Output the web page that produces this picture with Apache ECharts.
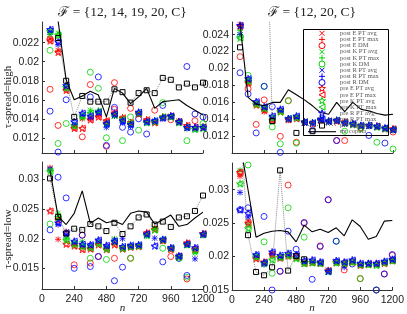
<!DOCTYPE html>
<html><head><meta charset="utf-8">
<script src="https://cdn.jsdelivr.net/npm/echarts@6/dist/echarts.min.js"></script>
<style>html,body{margin:0;padding:0;background:#fff}#c{width:407px;height:314px}</style>
</head><body><div id="c"></div>
<script>
// ---------- data ----------
const nValues = [60,120,180,240,300,360,420,480,540,600,660,720,780,840,900,960,1020,1080,1140,1200];
const panelTitles = ['\u2131 = {12, 14, 19, 20, C}', '\u2131 = {12, 20, C}'];
const rowLabels = ['\u03C4-spread=high', '\u03C4-spread=low'];
const xAxisLabel = 'n';
const seriesNames = ['post E PT avg','post E PT max','post E DM','post K PT avg','post K PT max','post K DM',
  'post R PT avg','post R PT max','post R DM','pre E PT avg','pre E PT max','pre K PT avg','pre K PT max',
  'pre R PT avg','pre R PT max','pre copula','mr copula'];
const yTicksTL = [0.012,0.014,0.016,0.018,0.02,0.022];
const yTicksTR = [0.012,0.014,0.016,0.018,0.02,0.022,0.024];
const yTicksBL = [0.015,0.02,0.025,0.03];
const yTicksBR = [0.015,0.02,0.025,0.03];

// top-left: F={12,14,19,20,C}, tau-spread=high
const tlEPost = [0.0224,0.0212,0.0172,0.0131,0.0140,0.0140,0.0143,0.0137,0.0145,0.0140,0.0135,0.0146,0.0138,0.0137,0.0141,0.0142,0.0138,0.0132,0.0130,0.0132];
const tlEPre  = [0.0222,0.0210,0.0170,0.0130,0.0130,0.0139,0.0142,0.0138,0.0146,0.0141,0.0136,0.0145,0.0139,0.0136,0.0142,0.0143,0.0137,0.0133,0.0131,0.0131];
const tlKPost = [0.0229,0.0230,0.0171,0.0132,0.0141,0.0149,0.0147,0.0134,0.0143,0.0141,0.0136,0.0145,0.0137,0.0138,0.0141,0.0143,0.0137,0.0130,0.0130,0.0132];
const tlKPre  = [0.0232,0.0228,0.0173,0.0133,0.0143,0.0146,0.0148,0.0135,0.0144,0.0139,0.0135,0.0146,0.0136,0.0137,0.0142,0.0142,0.0136,0.0131,0.0129,0.0130];
const tlRPost = [0.0231,0.0218,0.0173,0.0134,0.0144,0.0141,0.0146,0.0131,0.0143,0.0136,0.0132,0.0145,0.0136,0.0137,0.0140,0.0142,0.0136,0.0130,0.0129,0.0130];
const tlRPre  = [0.0234,0.0221,0.0175,0.0137,0.0146,0.0143,0.0147,0.0135,0.0145,0.0138,0.0134,0.0147,0.0137,0.0138,0.0141,0.0143,0.0137,0.0131,0.0131,0.0131];
const tlEDM = [[60,0.0224],[60,0.0171],[120,0.0133],[300,0.0121],[360,0.0176],[480,0.0111],[540,0.0178],[540,0.0150],[660,0.0151],[840,0.0149],[960,0.0139],[1140,0.0138]];
const tlKDM = [[60,0.0212],[120,0.0114],[180,0.0135],[360,0.0189],[420,0.0172],[480,0.0120],[600,0.0117],[660,0.0142],[720,0.0128],[900,0.0157],[1080,0.0117],[1200,0.0135]];
const tlRDM = [[60,0.0148],[120,0.0105],[180,0.0160],[360,0.0163],[420,0.0184],[480,0.0112],[540,0.0152],[600,0.0131],[660,0.0126],[720,0.0140],[780,0.0124],[900,0.0154],[1080,0.0195],[1140,0.0145],[1200,0.0142]];
const tlSquares = [null,0.0225,0.0180,0.0142,0.0164,0.0158,0.0158,0.0158,0.0171,0.0168,0.0157,0.0167,0.0170,0.0167,0.0183,0.0181,0.0173,0.0177,0.0173,0.0178];
const tlLine = [0.0300,0.0243,0.0181,0.0160,0.0164,0.0169,0.0165,0.0142,0.0172,0.0167,0.0156,0.0163,0.0172,0.0151,0.0158,0.0159,0.0160,0.0154,0.0149,0.0144];

// top-right: F={12,20,C}, tau-spread=high
const trEPost = [0.0252,0.0184,0.0158,0.0149,0.0140,0.0150,0.0139,0.0142,0.0136,0.0136,0.0140,0.0137,0.0139,0.0136,0.0135,0.0133,0.0132,0.0131,0.0130,0.0128];
const trEPre  = [0.0250,0.0183,0.0157,0.0151,0.0139,0.0149,0.0140,0.0141,0.0137,0.0135,0.0139,0.0138,0.0138,0.0137,0.0134,0.0132,0.0133,0.0132,0.0129,0.0129];
const trKPost = [0.0245,0.0186,0.0159,0.0152,0.0141,0.0150,0.0140,0.0143,0.0136,0.0135,0.0139,0.0137,0.0138,0.0135,0.0135,0.0133,0.0132,0.0131,0.0130,0.0127];
const trKPre  = [0.0236,0.0185,0.0158,0.0153,0.0142,0.0149,0.0141,0.0142,0.0137,0.0136,0.0140,0.0138,0.0139,0.0136,0.0134,0.0132,0.0133,0.0131,0.0129,0.0128];
const trRPost = [0.0240,0.0186,0.0159,0.0153,0.0142,0.0151,0.0140,0.0142,0.0136,0.0135,0.0139,0.0137,0.0138,0.0135,0.0134,0.0132,0.0132,0.0131,0.0129,0.0127];
const trRPre  = [0.0251,0.0188,0.0161,0.0155,0.0144,0.0152,0.0141,0.0144,0.0137,0.0136,0.0140,0.0138,0.0139,0.0136,0.0135,0.0133,0.0133,0.0132,0.0130,0.0128];
const trEDM = [[60,0.0214],[120,0.0176],[180,0.0134],[240,0.0163],[360,0.0120],[420,0.0162],[480,0.0113],[780,0.0115],[840,0.0115],[960,0.0130],[1200,0.0125]];
const trKDM = [[60,0.0238],[120,0.0192],[240,0.0179],[300,0.0131],[360,0.0111],[420,0.0162],[480,0.0112],[840,0.0126],[960,0.0129],[1080,0.0113],[1200,0.0105]];
const trRDM = [[60,0.0195],[120,0.0170],[180,0.0124],[240,0.0179],[300,0.0155],[360,0.0101],[600,0.0127],[780,0.0115],[1020,0.0121],[1140,0.0112]];
const trSquares = [0.0225,null,null,0.0500,0.0138,null,null,0.0124,null,0.0126,null,null,null,null,null,null,null,null,null,null];
const trLine = [0.0253,0.0166,0.0158,0.0156,0.0160,0.0160,0.0175,0.0169,0.0163,0.0156,0.0148,0.0146,0.0160,0.0149,0.0160,0.0152,0.0150,0.0147,0.0145,0.0146];

// bottom-left: F={12,14,19,20,C}, tau-spread=low
const blEPost = [0.0320,0.0199,0.0212,0.0190,0.0186,0.0184,0.0193,0.0184,0.0192,0.0184,0.0187,0.0188,0.0209,0.0218,0.0196,0.0184,0.0172,0.0192,0.0183,0.0207];
const blEPre  = [0.0247,0.0232,0.0191,0.0188,0.0182,0.0183,0.0190,0.0182,0.0190,0.0183,0.0186,0.0187,0.0210,0.0216,0.0197,0.0182,0.0170,0.0193,0.0182,0.0209];
const blKPost = [0.0316,0.0243,0.0200,0.0193,0.0195,0.0186,0.0194,0.0185,0.0200,0.0185,0.0186,0.0189,0.0205,0.0217,0.0199,0.0183,0.0171,0.0189,0.0176,0.0206];
const blKPre  = [0.0314,0.0236,0.0198,0.0191,0.0187,0.0185,0.0192,0.0183,0.0195,0.0184,0.0187,0.0188,0.0206,0.0215,0.0198,0.0184,0.0169,0.0190,0.0180,0.0207];
const blRPost = [0.0318,0.0224,0.0206,0.0192,0.0188,0.0189,0.0196,0.0187,0.0198,0.0200,0.0188,0.0188,0.0206,0.0201,0.0198,0.0183,0.0170,0.0190,0.0166,0.0206];
const blRPre  = [0.0330,0.0227,0.0210,0.0196,0.0191,0.0190,0.0198,0.0189,0.0196,0.0187,0.0189,0.0190,0.0208,0.0188,0.0199,0.0185,0.0171,0.0191,0.0185,0.0208];
const blEDM = [[180,0.0113],[240,0.0156],[300,0.0206],[360,0.0159],[420,0.0170],[540,0.0167],[660,0.0167],[960,0.0170],[1080,0.0132]];
const blKDM = [[60,0.0225],[360,0.0167],[480,0.0165],[660,0.0167],[900,0.0184],[1020,0.0167],[1080,0.0135]];
const blRDM = [[60,0.0215],[120,0.0304],[180,0.0269],[240,0.0150],[300,0.0206],[360,0.0153],[420,0.0170],[540,0.0129],[600,0.0152],[900,0.0161],[1020,0.0167],[1080,0.0138]];
const blSquares = [0.0302,0.0237,0.0209,0.0217,0.0215,0.0225,0.0221,0.0213,0.0227,0.0208,0.0221,0.0236,0.0241,0.0224,0.0229,0.0220,0.0236,0.0238,0.0247,0.0273];
const blLine = [0.0315,0.0238,0.0224,0.0243,0.0281,0.0226,0.0235,0.0227,0.0230,0.0224,0.0243,0.0247,0.0245,0.0225,0.0232,0.0240,0.0221,0.0224,0.0235,0.0245];

// bottom-right: F={12,20,C}, tau-spread=low
const brEPost = [0.0320,0.0253,0.0199,0.0190,0.0204,0.0199,0.0202,0.0200,0.0191,0.0192,0.0191,0.0180,0.0192,0.0191,0.0193,0.0188,0.0188,0.0188,0.0191,0.0194];
const brEPre  = [0.0326,0.0250,0.0197,0.0192,0.0203,0.0198,0.0201,0.0199,0.0190,0.0191,0.0190,0.0179,0.0191,0.0190,0.0192,0.0187,0.0189,0.0189,0.0190,0.0194];
const brKPost = [0.0329,0.0248,0.0198,0.0189,0.0201,0.0197,0.0200,0.0198,0.0189,0.0190,0.0189,0.0177,0.0190,0.0189,0.0191,0.0187,0.0188,0.0188,0.0190,0.0193];
const brKPre  = [0.0309,0.0242,0.0200,0.0190,0.0195,0.0199,0.0202,0.0197,0.0190,0.0191,0.0190,0.0178,0.0191,0.0190,0.0192,0.0188,0.0188,0.0187,0.0191,0.0194];
const brRPost = [0.0296,0.0259,0.0201,0.0188,0.0205,0.0200,0.0203,0.0201,0.0192,0.0193,0.0190,0.0179,0.0193,0.0184,0.0193,0.0189,0.0189,0.0189,0.0192,0.0195];
const brRPre  = [0.0270,0.0265,0.0203,0.0191,0.0207,0.0202,0.0205,0.0203,0.0194,0.0195,0.0192,0.0178,0.0194,0.0192,0.0195,0.0190,0.0190,0.0190,0.0193,0.0196];
const brEDM = [[60,0.0326],[360,0.0178],[420,0.0307],[540,0.0250],[660,0.0216],[720,0.0285],[840,0.0180],[960,0.0167],[1080,0.0150],[1140,0.0174],[1200,0.0202]];
const brKDM = [[120,0.0337],[240,0.0222],[300,0.0175],[420,0.0273],[540,0.0229],[780,0.0223],[960,0.0167],[1080,0.0150]];
const brRDM = [[60,0.0270],[120,0.0273],[240,0.0260],[300,0.0150],[360,0.0178],[420,0.0238],[480,0.0211],[540,0.0251],[600,0.0166],[660,0.0215],[720,0.0285],[780,0.0223],[900,0.0189],[1080,0.0150],[1140,0.0174],[1200,0.0203]];
const brSquares = [0.0400,0.0232,0.0177,0.0172,0.0184,0.0329,0.0179,0.0201,0.0196,null,null,null,null,null,null,null,null,null,null,null];
const brLine = [0.0370,0.0300,0.0229,0.0235,0.0238,0.0239,0.0237,0.0222,0.0247,0.0237,0.0241,0.0236,0.0243,0.0231,0.0255,0.0245,0.0226,0.0230,0.0253,0.0254];

// ---------- chart ----------
const RED = '#ff0000', GREEN = '#00d400', BLUE = '#0000ff';
const COLS = [RED, GREEN, BLUE];
const SYM = {
  x: 'path://M0,0L10,10M10,0L0,10',
  plus: 'path://M5,0L5,10M0,5L10,5',
  star: 'path://M5,0L6.18,3.62L10,3.62L6.91,5.86L8.09,9.5L5,7.26L1.91,9.5L3.09,5.86L0,3.62L3.82,3.62Z',
  tri: 'path://M10,0L0,5L10,10Z'
};
const panels = [
  {g:{left:42, top:22, width:161, height:131}, yMin:0.0104, yMax:0.02418, yTicks:yTicksTL, xLabels:false,
   post:[tlEPost,tlKPost,tlRPost], pre:[tlEPre,tlKPre,tlRPre], dm:[tlEDM,tlKDM,tlRDM], sq:tlSquares, ln:tlLine},
  {g:{left:232, top:22, width:161, height:131}, yMin:0.01003, yMax:0.02549, yTicks:yTicksTR, xLabels:false,
   post:[trEPost,trKPost,trRPost], pre:[trEPre,trKPre,trRPre], dm:[trEDM,trKDM,trRDM], sq:trSquares, ln:trLine},
  {g:{left:42, top:162, width:161, height:127}, yMin:0.01151, yMax:0.03297, yTicks:yTicksBL, xLabels:true,
   post:[blEPost,blKPost,blRPost], pre:[blEPre,blKPre,blRPre], dm:[blEDM,blKDM,blRDM], sq:blSquares, ln:blLine},
  {g:{left:232, top:163, width:161, height:127}, yMin:0.015, yMax:0.034, yTicks:yTicksBR, xLabels:true,
   post:[brEPost,brKPost,brRPost], pre:[brEPre,brKPre,brRPre], dm:[brEDM,brKDM,brRDM], sq:brSquares, ln:brLine}
];
const pts = arr => arr.map((v,i) => [nValues[i], v]);
const ptsNN = arr => arr.map((v,i) => [nValues[i], v]).filter(p => p[1] != null);
function scat(name, gi, data, sym, color, size) {
  return {name, type:'scatter', xAxisIndex:gi, yAxisIndex:gi, data, symbol:sym, symbolSize:size,
    itemStyle:{color:'none', borderColor:color, borderWidth:1}, silent:true, clip:true};
}
const grids = [], xAxes = [], yAxes = [], series = [];
const axisCol = '#333';
panels.forEach((p, gi) => {
  grids.push(Object.assign({}, p.g));
  xAxes.push({type:'value', gridIndex:gi, min:0, max:1200, interval:240,
    axisLine:{show:true, onZero:false, lineStyle:{color:axisCol, width:1}},
    axisTick:{show:true, inside:true, length:3, lineStyle:{color:axisCol}},
    axisLabel:{show:p.xLabels, margin:5, fontSize:10.5, fontFamily:'Liberation Sans', color:'#222',
      formatter: v => String(v)},
    splitLine:{show:false}});
  yAxes.push({type:'value', gridIndex:gi, min:p.yMin, max:p.yMax,
    axisLine:{show:true, onZero:false, lineStyle:{color:axisCol, width:1}},
    axisTick:{show:true, inside:true, length:3, customValues:p.yTicks, lineStyle:{color:axisCol}},
    axisLabel:{customValues:p.yTicks, margin:3, fontSize:10.5, fontFamily:'Liberation Sans', color:'#222',
      formatter: v => String(parseFloat(Number(v).toFixed(4)))},
    splitLine:{show:false}});
  series.push({name:seriesNames[15], type:'line', xAxisIndex:gi, yAxisIndex:gi, data:pts(p.sq),
    symbol:'rect', symbolSize:5, showAllSymbol:true, connectNulls:false, silent:true,
    itemStyle:{color:'none', borderColor:'#000', borderWidth:1},
    lineStyle:{color:'#888', type:'dotted', width:1}});
  series.push({name:seriesNames[16], type:'line', xAxisIndex:gi, yAxisIndex:gi, data:pts(p.ln),
    symbol:'none', silent:true, itemStyle:{color:'#000'}, lineStyle:{color:'#000', width:1.1}});
  for (let c = 0; c < 3; c++) {
    series.push(scat(seriesNames[c*3], gi, ptsNN(p.post[c]), SYM.x, COLS[c], 5));
    series.push(scat(seriesNames[c*3+1], gi, ptsNN(p.post[c]), SYM.plus, COLS[c], 6));
    series.push(scat(seriesNames[c*3+2], gi, p.dm[c], 'circle', COLS[c], 6));
  }
  for (let c = 0; c < 3; c++) {
    series.push(scat(seriesNames[9+c*2], gi, ptsNN(p.pre[c]), SYM.star, COLS[c], 7));
    series.push(scat(seriesNames[10+c*2], gi, ptsNN(p.pre[c]), SYM.tri, COLS[c], 6));
  }
});

// ---------- legend (drawn as a key box, MATLAB style) ----------
const legendCols = [RED,RED,RED,GREEN,GREEN,GREEN,BLUE,BLUE,BLUE,RED,RED,GREEN,GREEN,BLUE,BLUE,'#000','#000'];
const legendMarks = ['x','plus','circle','x','plus','circle','x','plus','circle','star','tri','star','tri','star','tri','square','line'];
const serif = '"Liberation Serif","DejaVu Serif",serif';
const LG = {x:303.5, y:29.5, w:85, h:106, row0:33.3, dy:6.15, cx:322, tx:340};
const lgEls = [{type:'rect', z:20, shape:{x:LG.x, y:LG.y, width:LG.w, height:LG.h}, style:{fill:'none', stroke:'#000', lineWidth:1}}];
function starPts(cx, cy, R) {
  const out = [];
  for (let k = 0; k < 10; k++) {
    const r = k % 2 ? R * 0.4 : R, a = -Math.PI / 2 + k * Math.PI / 5;
    out.push([cx + r * Math.cos(a), cy + r * Math.sin(a)]);
  }
  return out;
}
seriesNames.forEach((nm, i) => {
  const cy = LG.row0 + i * LG.dy, cx = LG.cx, col = legendCols[i];
  const st = {stroke:col, fill:'none', lineWidth:1};
  const L = (x1,y1,x2,y2,s) => lgEls.push({type:'line', z:20, shape:{x1,y1,x2,y2}, style:s || st});
  switch (legendMarks[i]) {
    case 'x': L(cx-2.5,cy-2.5,cx+2.5,cy+2.5); L(cx+2.5,cy-2.5,cx-2.5,cy+2.5); break;
    case 'plus': L(cx-3,cy,cx+3,cy); L(cx,cy-3,cx,cy+3); break;
    case 'circle': lgEls.push({type:'circle', z:20, shape:{cx, cy, r:3}, style:st}); break;
    case 'star': lgEls.push({type:'polygon', z:20, shape:{points:starPts(cx, cy, 3.6)}, style:st}); break;
    case 'tri': lgEls.push({type:'polygon', z:20, shape:{points:[[cx+3,cy-3],[cx-3,cy],[cx+3,cy+3]]}, style:st}); break;
    case 'square':
      L(308,cy,336,cy,{stroke:'#888', lineWidth:1, lineDash:[1,2]});
      lgEls.push({type:'rect', z:20, shape:{x:cx-2.5, y:cy-2.5, width:5, height:5}, style:{fill:'#fff', stroke:'#000', lineWidth:1}});
      break;
    case 'line': L(308,cy,336,cy,{stroke:'#000', lineWidth:1.1}); break;
  }
  lgEls.push({type:'text', z:20, x:LG.tx, y:cy, style:{text:nm, font:'6.5px '+serif, fill:'#555', textAlign:'left', textVerticalAlign:'middle'}});
});

const chart = echarts.init(document.getElementById('c'), null, {renderer:'canvas', width:407, height:314});
chart.setOption({
  animation:false,
  backgroundColor:'#fff',
  grid:grids, xAxis:xAxes, yAxis:yAxes, series,
  graphic:[
    {type:'text', x:122.6, y:12.7, style:{text:panelTitles[0], font:'13.5px '+serif, fill:'#222', textAlign:'center', textVerticalAlign:'middle'}},
    {type:'text', x:312, y:12.7, style:{text:panelTitles[1], font:'13.5px '+serif, fill:'#222', textAlign:'center', textVerticalAlign:'middle'}},
    {type:'text', x:8, y:97, rotation:Math.PI/2, style:{text:rowLabels[0], font:'11px '+serif, fill:'#222', textAlign:'center', textVerticalAlign:'middle'}},
    {type:'text', x:8, y:239, rotation:Math.PI/2, style:{text:rowLabels[1], font:'11px '+serif, fill:'#222', textAlign:'center', textVerticalAlign:'middle'}},
    {type:'text', x:122.6, y:308, style:{text:xAxisLabel, font:'italic 11px '+serif, fill:'#222', textAlign:'center', textVerticalAlign:'middle'}},
    {type:'text', x:312, y:308, style:{text:xAxisLabel, font:'italic 11px '+serif, fill:'#222', textAlign:'center', textVerticalAlign:'middle'}}
  ].concat(lgEls)
});
</script>
</body></html>
